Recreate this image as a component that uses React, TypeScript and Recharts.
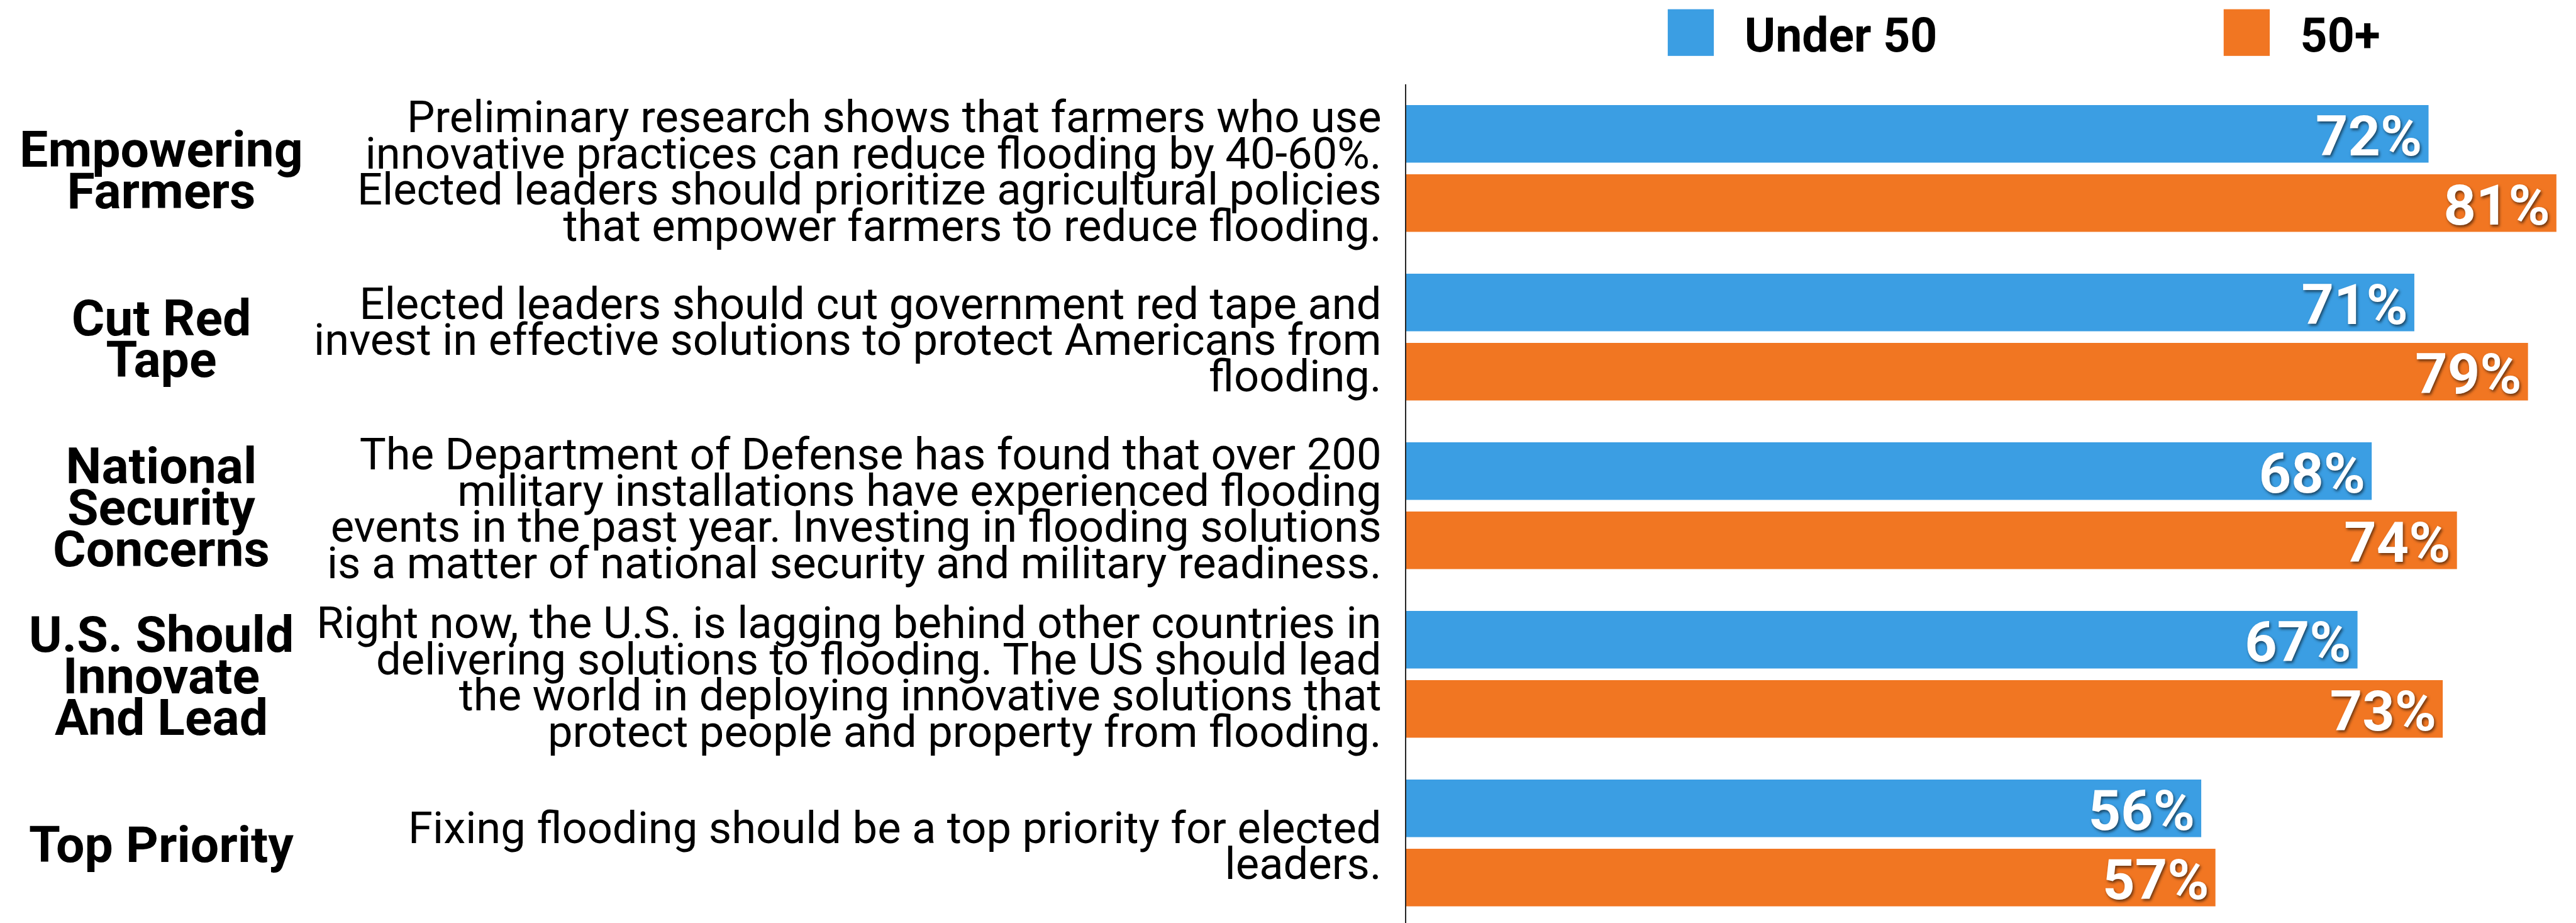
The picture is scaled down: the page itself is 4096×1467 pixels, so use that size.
import React from "react";
import { BarChart, Bar, XAxis, YAxis, Legend, LabelList } from "recharts";

const S = 0.916;

const categories = [
  "Empowering Farmers",
  "Cut Red Tape",
  "National Security Concerns",
  "U.S. Should Innovate And Lead",
  "Top Priority",
];

const categoryLines = [
  ["Empowering", "Farmers"],
  ["Cut Red", "Tape"],
  ["National", "Security", "Concerns"],
  ["U.S. Should", "Innovate", "And Lead"],
  ["Top Priority"],
];

const statementLines = [
  [
    "Preliminary research shows that farmers who use",
    "innovative practices can reduce flooding by 40-60%.",
    "Elected leaders should prioritize agricultural policies",
    "that empower farmers to reduce flooding.",
  ],
  [
    "Elected leaders should cut government red tape and",
    "invest in effective solutions to protect Americans from",
    "flooding.",
  ],
  [
    "The Department of Defense has found that over 200",
    "military installations have experienced flooding",
    "events in the past year. Investing in flooding solutions",
    "is a matter of national security and military readiness.",
  ],
  [
    "Right now, the U.S. is lagging behind other countries in",
    "delivering solutions to flooding. The US should lead",
    "the world in deploying innovative solutions that",
    "protect people and property from flooding.",
  ],
  ["Fixing flooding should be a top priority for elected", "leaders."],
];

const under50 = [72, 71, 68, 67, 56];
const over50 = [81, 79, 74, 73, 57];
const seriesNames = ["Under 50", "50+"];

const BLUE = "#3b9ee3";
const ORANGE = "#f17622";
const FONT = "Roboto, 'Noto Sans', sans-serif";

const data = categories.map((c, i) => ({
  key: c,
  under50: under50[i],
  over50: over50[i],
}));

const CategoryTick = (props: any) => {
  const { y, payload } = props;
  const idx = categories.indexOf(payload.value);
  if (idx < 0) return null;
  const cat = categoryLines[idx];
  const st = statementLines[idx];
  return (
    <g>
      {cat.map((line, i) => (
        <text
          key={"c" + i}
          x={280 * S}
          y={y + ((i - (cat.length - 1) / 2) * 72 + 32.5) * S}
          textAnchor="middle"
          fontSize={88 * S}
          fontWeight={700}
          fontFamily={FONT}
          fill="#000"
        >
          {line}
        </text>
      ))}
      {st.map((line, i) => (
        <text
          key={"s" + i}
          x={2398 * S}
          y={y + ((i - (st.length - 1) / 2) * 63 + 31) * S}
          textAnchor="end"
          fontSize={77 * S}
          fontWeight={400}
          fontFamily={FONT}
          fill="#000"
        >
          {line}
        </text>
      ))}
    </g>
  );
};

const ValueLabel = (props: any) => {
  const { x, y, width, height, value } = props;
  return (
    <text
      x={x + width - 11 * S}
      y={y + height / 2 + 37 * S}
      textAnchor="end"
      fontSize={98 * S}
      fontWeight={700}
      fontFamily={FONT}
      fill="#fff"
      style={{ filter: "drop-shadow(2px 3px 2px rgba(0,0,0,0.55))" }}
    >
      {value}%
    </text>
  );
};

const legendX = [2895, 3860];

const LegendContent = (props: any) => {
  const payload = [...(props.payload || [])].sort(
    (a: any, b: any) => seriesNames.indexOf(a.value) - seriesNames.indexOf(b.value)
  );
  return (
    <svg width={4096} height={110} style={{ position: "absolute", left: 0, top: 0, overflow: "visible" }}>
      {payload.map((p: any, i: number) => (
        <g key={i}>
          <rect x={legendX[i] * S} y={16 * S} width={80 * S} height={81 * S} fill={p.color} />
          <text
            x={(legendX[i] + 133) * S}
            y={89 * S}
            fontSize={82 * S}
            fontWeight={700}
            fontFamily={FONT}
            fill="#000"
          >
            {p.value}
          </text>
        </g>
      ))}
    </svg>
  );
};

export default function App() {
  return (
    <div style={{ width: 4096, height: 1467, background: "#fff", position: "relative", fontFamily: FONT }}>
      <style>{`body{margin:0;background:#fff;}`}</style>
      <BarChart
        width={4096}
        height={1467}
        data={data}
        layout="vertical"
        margin={{ top: 146.25 * S, right: 34 * S, left: 0, bottom: -7 }}
        barSize={100 * S}
        barGap={20 * S}
      >
        <XAxis type="number" domain={[0, 81]} hide />
        <YAxis
          type="category"
          dataKey="key"
          width={2440 * S}
          tick={<CategoryTick />}
          tickLine={false}
          axisLine={{ stroke: "#222", strokeWidth: 2 }}
          interval={0}
        />
        <Legend
          verticalAlign="top"
          content={<LegendContent />}
          wrapperStyle={{ top: 0, left: 0, width: 4096, height: 0, overflow: "visible" }}
        />
        <Bar dataKey="under50" name={seriesNames[0]} fill={BLUE} isAnimationActive={false}>
          <LabelList dataKey="under50" content={<ValueLabel />} />
        </Bar>
        <Bar dataKey="over50" name={seriesNames[1]} fill={ORANGE} isAnimationActive={false}>
          <LabelList dataKey="over50" content={<ValueLabel />} />
        </Bar>
      </BarChart>
    </div>
  );
}
